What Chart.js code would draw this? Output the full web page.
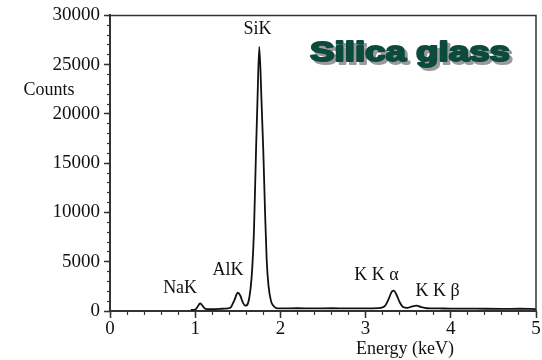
<!DOCTYPE html>
<html>
<head>
<meta charset="utf-8">
<script src="https://cdn.jsdelivr.net/npm/chart.js@4/dist/chart.umd.min.js"></script>
<style>
  html, body { margin: 0; padding: 0; background: #fff; }
</style>
</head>
<body>
<canvas id="spectrum" width="542" height="360"></canvas>
<script>
// energy (keV) and counts
const energy = [0.95, 1.0, 1.03, 1.056, 1.08, 1.12, 1.18, 1.25, 1.32, 1.38,
  1.42, 1.46, 1.5, 1.53, 1.56, 1.59, 1.62, 1.65, 1.67, 1.69,
  1.714, 1.731, 1.752, 1.778, 1.799, 1.82, 1.839, 1.86, 1.89, 1.92,
  1.95, 2.0, 2.2, 2.4, 2.6, 2.8, 3.0, 3.15, 3.22, 3.27,
  3.31, 3.33, 3.36, 3.4, 3.44, 3.49, 3.55, 3.6, 3.65, 3.72,
  3.85, 4.0, 4.3, 4.6, 4.8, 5.0];
const counts = [100, 150, 450, 780, 600, 220, 180, 200, 230, 260,
  400, 1100, 1850, 1550, 850, 540, 800, 2300, 4400, 8200,
  16300, 21400, 26800, 21400, 16300, 10000, 5200, 2600, 1000, 500,
  300, 270, 280, 260, 280, 270, 270, 290, 450, 1200,
  2000, 2060, 1700, 900, 400, 320, 480, 540, 400, 280,
  260, 250, 240, 220, 230, 200];

const xTicksMajor = 1;
const xTicksMinor = 0.2;
const yTicksMajor = 5000;
const yTicksMinor = 1000;

// peak labels and where they sit (keV, counts)
const peakNames = ["NaK", "AlK", "SiK", "K K \u03b1", "K K \u03b2"];
const peakLabelX = [0.823, 1.385, 1.731, 3.128, 3.844];
const peakLabelY = [2330, 4090, 28580, 3580, 1960];

const serif = "'Liberation Serif', 'Times New Roman', serif";
const axisColor = "#333";

const textPlugin = {
  id: "texts",
  afterDraw(chart) {
    const c = chart.ctx;
    const a = chart.chartArea;
    const sx = chart.scales.x;
    const sy = chart.scales.y;

    // frame on top and right
    c.save();
    c.strokeStyle = axisColor;
    c.lineWidth = 1.5;
    c.beginPath();
    c.moveTo(a.left, a.top);
    c.lineTo(a.right, a.top);
    c.lineTo(a.right, a.bottom);
    c.stroke();

    c.fillStyle = "#111";
    c.font = "18px " + serif;
    c.textAlign = "center";
    c.textBaseline = "middle";
    for (let i = 0; i < peakNames.length; i++) {
      c.fillText(peakNames[i], sx.getPixelForValue(peakLabelX[i]), sy.getPixelForValue(peakLabelY[i]));
    }
    c.fillText("Counts", 49, 90);
    c.fillText("Energy (keV)", 405, 349);

    // title with drop shadow
    c.font = "bold 28px 'Liberation Sans', Arial, sans-serif";
    c.textAlign = "left";
    c.textBaseline = "alphabetic";
    const w = c.measureText("Silica glass").width;
    const k = 200 / w;
    c.translate(310, 61);
    c.scale(k, 1);
    c.lineJoin = "round";
    c.lineWidth = 2;
    c.fillStyle = "#9a9a9a";
    c.strokeStyle = "#9a9a9a";
    c.strokeText("Silica glass", 3 / k, 3);
    c.fillText("Silica glass", 3 / k, 3);
    c.fillStyle = "#0b4a3c";
    c.strokeStyle = "#0b4a3c";
    c.strokeText("Silica glass", 0, 0);
    c.fillText("Silica glass", 0, 0);
    c.restore();
  }
};

const points = [];
for (let i = 0; i < energy.length; i++) {
  points.push({ x: energy[i], y: counts[i] });
}

const tickFont = { family: serif, size: 19 };
const plain = (v) => String(v);

const ctx = document.getElementById("spectrum").getContext("2d");
const chart = new Chart(ctx, {
  type: "line",
  data: {
    datasets: [{
      data: points,
      borderColor: "#111",
      borderWidth: 1.8,
      pointRadius: 0,
      fill: false,
      cubicInterpolationMode: "monotone",
      xAxisID: "x",
      yAxisID: "y",
    }],
  },
  options: {
    responsive: false,
    animation: false,
    devicePixelRatio: 1,
    layout: { padding: { top: 15, right: 6, left: 0, bottom: 0 } },
    plugins: { legend: { display: false }, tooltip: { enabled: false } },
    scales: {
      x: {
        type: "linear", min: 0, max: 5, position: "bottom", weight: 1,
        ticks: { stepSize: xTicksMajor, font: tickFont, color: "#111", padding: 0, maxRotation: 0, callback: plain },
        grid: { drawOnChartArea: false, tickLength: 7, tickColor: axisColor, tickWidth: 1.5 },
        border: { color: axisColor, width: 2 },
        afterFit(s) { s.height = 49; },
      },
      xMinor: {
        type: "linear", min: 0, max: 5, position: "bottom", weight: 0,
        ticks: { stepSize: xTicksMinor, display: false },
        grid: { drawOnChartArea: false, tickLength: 4, tickColor: axisColor, tickWidth: 1.2 },
        border: { display: false },
        afterFit(s) { s.height = 0; },
      },
      y: {
        type: "linear", min: 0, max: 30000, position: "left", weight: 1,
        ticks: { stepSize: yTicksMajor, font: tickFont, color: "#111", padding: 4, callback: plain },
        grid: { drawOnChartArea: false, tickLength: 6, tickColor: axisColor, tickWidth: 1.5 },
        border: { color: axisColor, width: 2 },
        afterFit(s) { s.width = 110; },
      },
      yMinor: {
        type: "linear", min: 0, max: 30000, position: "left", weight: 0,
        ticks: { stepSize: yTicksMinor, display: false },
        grid: { drawOnChartArea: false, tickLength: 3, tickColor: axisColor, tickWidth: 1.2 },
        border: { display: false },
        afterFit(s) { s.width = 0; },
      },
    },
  },
  plugins: [textPlugin],
});
</script>
</body>
</html>
